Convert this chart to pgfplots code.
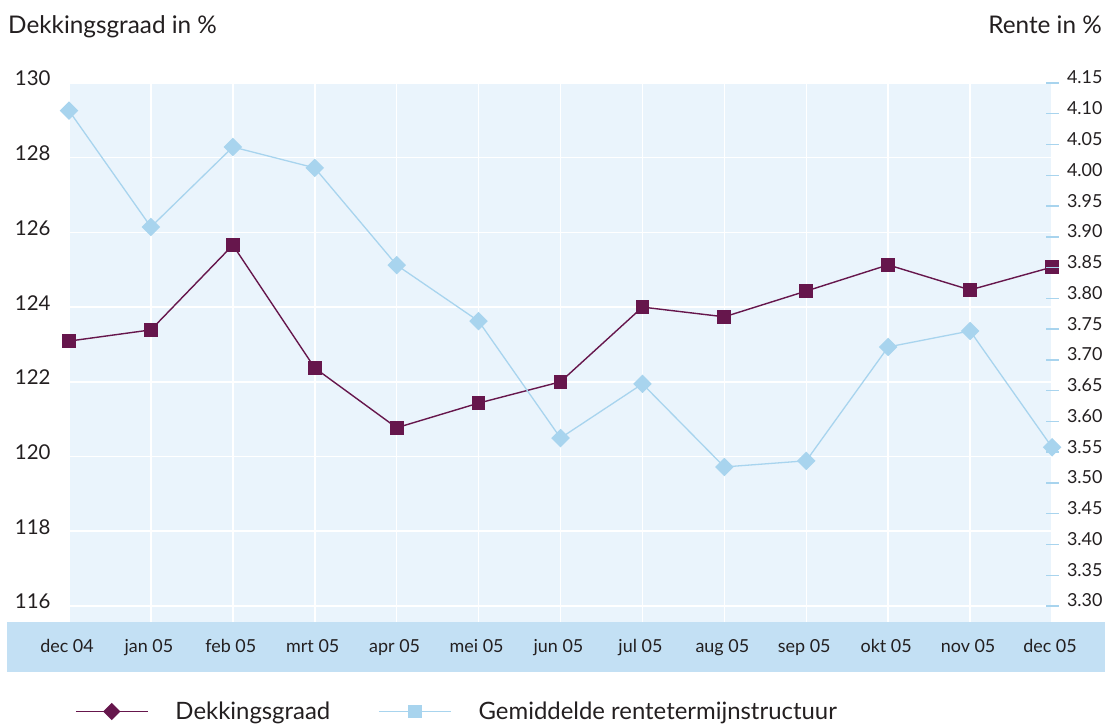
\documentclass[border=0pt]{standalone}
\usepackage{fontspec}
\setmainfont{Lato}
\usepackage{pgfplots}
\usepackage{pgfplotstable}
\pgfplotsset{compat=1.18}

\definecolor{dnbpurple}{RGB}{102,22,76}
\definecolor{dnbblue}{RGB}{168,212,238}
\definecolor{plotbg}{RGB}{234,244,252}
\definecolor{bandblue}{RGB}{195,224,244}
\definecolor{txt}{RGB}{35,31,32}

% maand  dekkingsgraad (links)  rente (rechts)
\pgfplotstableread{
x dek rente
0  123.09 4.105
1  123.39 3.916
2  125.66 4.046
3  122.37 4.012
4  120.77 3.854
5  121.43 3.763
6  122.00 3.573
7  124.00 3.661
8  123.74 3.526
9  124.43 3.536
10 125.13 3.721
11 124.46 3.747
12 125.07 3.558
}\datatable

\begin{document}
\begin{tikzpicture}[x=1bp,y=1bp]
\path[use as bounding box] (0,0) rectangle (1111,726);
\fill[bandblue] (7,54) rectangle (1105,104);
\node[anchor=base west,inner sep=0pt,text=txt,font=\fontsize{24.4}{28}\selectfont] at (8,692) {Dekkingsgraad in \%};
\node[anchor=base east,inner sep=0pt,text=txt,font=\fontsize{24.4}{28}\selectfont] at (1102,692) {Rente in \%};

\begin{axis}[
  at={(69bp,104bp)}, anchor=south west,
  width=983bp, height=539bp, scale only axis,
  xmin=0, xmax=12, ymin=115.57, ymax=130,
  axis background/.style={fill=plotbg},
  axis line style={draw=none},
  major tick length=0pt,
  xtick={0,...,12},
  xticklabels={dec 04,jan 05,feb 05,mrt 05,apr 05,mei 05,jun 05,jul 05,aug 05,sep 05,okt 05,nov 05,dec 05},
  ytick={116,118,...,130},
  grid=major, grid style={white, line width=1.5bp},
  xticklabel style={anchor=base, xshift=-2bp, yshift=-31bp, text=txt, font=\fontsize{18}{22}\selectfont},
  yticklabel style={anchor=base east, xshift=-15bp, yshift=-3bp, text=txt, font=\fontsize{20.5}{24}\selectfont},
  /pgf/number format/assume math mode=true,
  clip=false,
]
\addplot[dnbpurple, line width=1.4bp, mark=square*, mark size=6.2bp] table[x=x,y=dek] {\datatable};
\end{axis}

\begin{axis}[
  at={(69bp,104bp)}, anchor=south west,
  width=983bp, height=539bp, scale only axis,
  xmin=0, xmax=12, ymin=3.274, ymax=4.15,
  hide x axis,
  axis y line*=right,
  axis line style={draw=none},
  ytick={3.30,3.35,...,4.16},
  major tick length=13bp, tick align=center,
  ytick style={draw=dnbblue, line width=1.4bp},
  yticklabel style={anchor=base west, xshift=5bp, yshift=-1bp, text=txt, font=\fontsize{18}{22}\selectfont,
    /pgf/number format/.cd, fixed, fixed zerofill, precision=2},
  /pgf/number format/assume math mode=true,
  clip=false,
  legend columns=2,
  legend cell align=left,
  legend style={at={(0.006,-0.166)}, anchor=west, draw=none, fill=none, inner sep=0pt,
    font=\fontsize{24}{28}\selectfont, text=txt,
    nodes={inner sep=0pt},
    /tikz/every odd column/.append style={column sep=27bp},
    /tikz/every even column/.append style={column sep=48bp}},
  legend image code/.code={\draw[#1, mark repeat=2, mark phase=2] plot coordinates {(0bp,0bp) (36bp,0bp) (72bp,0bp)};},
]
\addplot[dnbblue, line width=1.3bp, mark=square*, mark size=5.9bp, mark options={rotate=45}, forget plot] table[x=x,y=rente] {\datatable};
\addlegendimage{dnbpurple, line width=1.4bp, mark=square*, mark size=5.4bp, mark options={rotate=45}}
\addlegendentry{Dekkingsgraad}
\addlegendimage{dnbblue, line width=1.3bp, mark=square*, mark size=6.3bp}
\addlegendentry{Gemiddelde rentetermijnstructuur}
\end{axis}
\end{tikzpicture}
\end{document}
